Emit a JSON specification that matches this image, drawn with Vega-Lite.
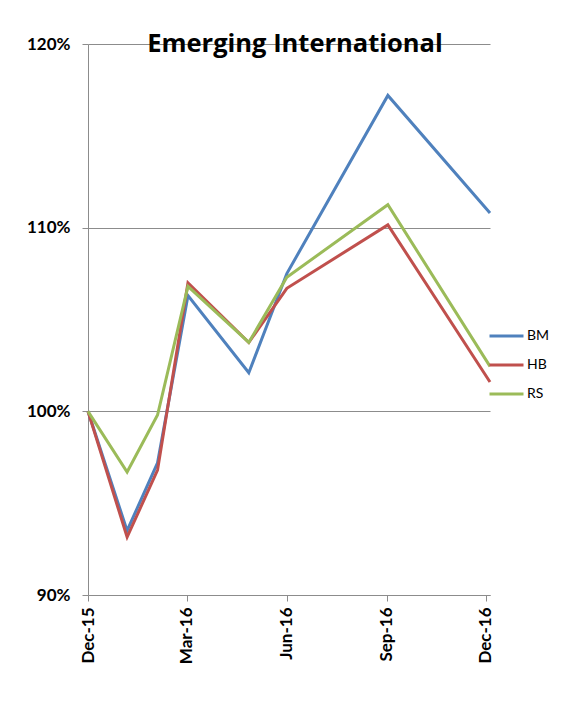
{
  "$schema": "https://vega.github.io/schema/vega-lite/v6.json",
  "autosize": "none",
  "width": 402,
  "height": 551,
  "padding": {"left": 88, "top": 44, "right": 78, "bottom": 120},
  "background": "white",
  "title": {
    "text": "Emerging International",
    "font": "Open Sans",
    "fontSize": 25.5,
    "fontWeight": "bold",
    "color": "black",
    "anchor": "middle",
    "frame": "group",
    "offset": -22,
    "dx": 6
  },
  "data": {
    "values": [
      {"date": "2015-12-01", "series": "BM", "value": 1.000},
      {"date": "2016-01-06", "series": "BM", "value": 0.935},
      {"date": "2016-02-03", "series": "BM", "value": 0.972},
      {"date": "2016-03-02", "series": "BM", "value": 1.063},
      {"date": "2016-04-27", "series": "BM", "value": 1.021},
      {"date": "2016-06-01", "series": "BM", "value": 1.075},
      {"date": "2016-09-02", "series": "BM", "value": 1.172},
      {"date": "2016-12-05", "series": "BM", "value": 1.108},
      {"date": "2015-12-01", "series": "HB", "value": 1.000},
      {"date": "2016-01-06", "series": "HB", "value": 0.9315},
      {"date": "2016-02-03", "series": "HB", "value": 0.968},
      {"date": "2016-03-02", "series": "HB", "value": 1.070},
      {"date": "2016-04-27", "series": "HB", "value": 1.0375},
      {"date": "2016-06-01", "series": "HB", "value": 1.067},
      {"date": "2016-09-02", "series": "HB", "value": 1.1015},
      {"date": "2016-12-05", "series": "HB", "value": 1.016},
      {"date": "2015-12-01", "series": "RS", "value": 1.000},
      {"date": "2016-01-06", "series": "RS", "value": 0.967},
      {"date": "2016-02-03", "series": "RS", "value": 0.998},
      {"date": "2016-03-02", "series": "RS", "value": 1.068},
      {"date": "2016-04-27", "series": "RS", "value": 1.0375},
      {"date": "2016-06-01", "series": "RS", "value": 1.073},
      {"date": "2016-09-02", "series": "RS", "value": 1.1125},
      {"date": "2016-12-05", "series": "RS", "value": 1.0245}
    ]
  },
  "mark": {"type": "line", "strokeWidth": 3, "strokeJoin": "miter"},
  "encoding": {
    "x": {
      "field": "date",
      "type": "temporal",
      "scale": {
        "type": "utc",
        "domain": [
          {"year": 2015, "month": 12, "date": 1, "utc": true},
          {"year": 2016, "month": 12, "date": 5, "utc": true}
        ]
      },
      "axis": {
        "title": null,
        "format": "%b-%y",
        "values": [
          {"year": 2015, "month": 12, "date": 1, "utc": true},
          {"year": 2016, "month": 3, "date": 1, "utc": true},
          {"year": 2016, "month": 6, "date": 1, "utc": true},
          {"year": 2016, "month": 9, "date": 1, "utc": true},
          {"year": 2016, "month": 12, "date": 1, "utc": true}
        ],
        "labelAngle": 270,
        "labelAlign": "right",
        "labelBaseline": "middle",
        "labelPadding": 6,
        "tickSize": 6,
        "grid": false,
        "labelFlush": false,
        "labelOverlap": false
      }
    },
    "y": {
      "field": "value",
      "type": "quantitative",
      "scale": {"domain": [0.9, 1.2], "nice": false, "zero": false},
      "axis": {
        "title": null,
        "format": ".0%",
        "values": [0.9, 1.0, 1.1, 1.2],
        "grid": true,
        "tickSize": 6,
        "labelPadding": 12
      }
    },
    "color": {
      "field": "series",
      "type": "nominal",
      "scale": {"domain": ["BM", "HB", "RS"], "range": ["#4F81BD", "#C0504D", "#9BBB59"]},
      "legend": {
        "title": null,
        "orient": "none",
        "legendX": 400,
        "legendY": 282,
        "symbolType": "stroke",
        "symbolSize": 1156,
        "symbolStrokeWidth": 3,
        "clipHeight": 20,
        "rowPadding": 9,
        "labelOffset": 2,
        "labelFont": "Lato",
        "labelFontSize": 14,
        "labelColor": "black"
      }
    }
  },
  "config": {
    "view": {"stroke": null},
    "axis": {
      "labelFont": "Lato",
      "labelFontSize": 17,
      "labelFontWeight": "bold",
      "labelColor": "black",
      "domainColor": "#8c8c8c",
      "tickColor": "#8c8c8c",
      "gridColor": "#8c8c8c",
      "gridOpacity": 1,
      "domainWidth": 1,
      "gridWidth": 1
    }
  }
}
